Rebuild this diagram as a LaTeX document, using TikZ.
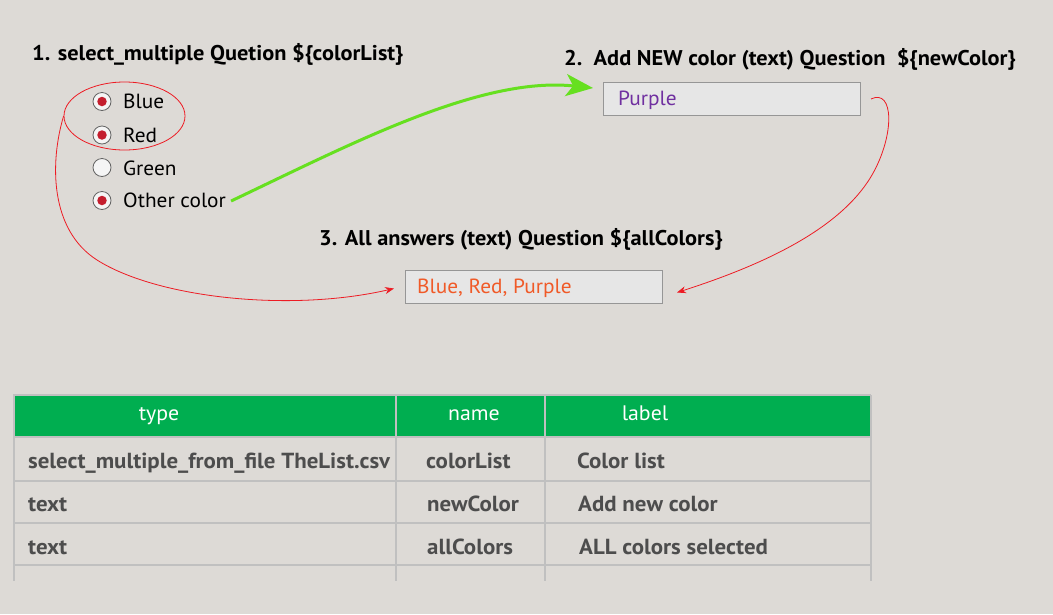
\documentclass[tikz,border=0pt]{standalone}
\usepackage{fontspec}
\setmainfont{PT Sans}
\newfontfamily\titlefont{PT Sans}[FakeStretch=1.05]
\newfontfamily\cellfont{PT Sans}[FakeStretch=1.05]
\newfontfamily\wideregular{PT Sans}[FakeStretch=1.04]
\usetikzlibrary{shapes.geometric,arrows.meta}
\definecolor{bgc}{RGB}{221,218,214}
\definecolor{hdr}{RGB}{0,174,80}
\definecolor{gridc}{RGB}{192,192,192}
\definecolor{boxf}{RGB}{230,230,230}
\definecolor{boxd}{RGB}{150,150,150}
\definecolor{purp}{RGB}{112,48,160}
\definecolor{oran}{RGB}{240,90,40}
\definecolor{redc}{RGB}{237,28,36}
\definecolor{lime}{RGB}{102,224,32}
\definecolor{dotc}{RGB}{196,30,46}
\definecolor{tabt}{RGB}{77,77,77}
\tikzset{
  ttl/.style={anchor=base west,inner sep=0,font=\fontsize{21.3}{24}\selectfont\titlefont\bfseries},
  opt/.style={anchor=base west,inner sep=0,font=\fontsize{20.5}{24}\selectfont\wideregular},
  radio/.style={circle,draw={rgb,255:red,100;green,100;blue,100},line width=0.8pt,fill={rgb,255:red,245;green,245;blue,245},minimum size=18,inner sep=0},
  dot/.style={circle,fill=dotc,minimum size=9.5,inner sep=0},
  ansbox/.style={draw=boxd,fill=boxf,line width=1pt,minimum width=257,minimum height=33,inner sep=0},
  anstxt/.style={anchor=base west,inner sep=0,font=\fontsize{20.5}{24}\selectfont\wideregular},
  hdrtxt/.style={anchor=base,inner sep=0,text=white,font=\fontsize{21}{24}\selectfont\wideregular},
  celltxt/.style={anchor=base west,inner sep=0,text=tabt,font=\fontsize{21.8}{24}\selectfont\cellfont\bfseries},
  redline/.style={draw=redc,line width=0.8pt},
  redtip/.style={-{Stealth[length=9,width=7]}},
}
\begin{document}
\begin{tikzpicture}[x=1pt,y=-1pt]
\fill[bgc] (0,0) rectangle (1053,614);
\useasboundingbox (0,0) rectangle (1053,614);

% titles
\node[ttl] (t1) at (32,60) {1. select\_multiple Quetion \$\{colorList\}};
\node[ttl] (t2) at (564,65) {2.\ \ Add NEW color (text) Question\ \ \$\{newColor\}};
\node[ttl] (t3) at (319,245) {3. All answers (text) Question \$\{allColors\}};

% radio options
\node[radio] (r1) at (102,101.5) {};
\node[dot] (d1) at (r1) {};
\node[radio] (r2) at (102,135) {};
\node[dot] (d2) at (r2) {};
\node[radio] (r3) at (102,167.5) {};
\node[radio] (r4) at (102,200.5) {};
\node[dot] (d4) at (r4) {};
\node[opt] (o1) at (123,108) {Blue};
\node[opt] (o2) at (123,142) {Red};
\node[opt] (o3) at (123,175) {Green};
\node[opt] (o4) at (123,207) {Other color};

\node[ellipse,redline,minimum width=121,minimum height=68,inner sep=0] (sel) at (124.5,116) {};

% answer boxes
\node[ansbox,anchor=north west] (b2) at (603,82) {};
\node[anstxt,text=purp] (b2t) at (618,105) {Purple};
\node[ansbox,anchor=north west] (b3) at (405,270) {};
\node[anstxt,text=oran] (b3t) at (417,293) {Blue, Red, Purple};

% connectors
\draw[draw=lime,line width=3pt,-{Stealth[length=27,width=22,inset=7]}]
  ([xshift=5pt,yshift=6pt]o4.base east) .. controls +(118,-56) and +(-113,-12) .. ([xshift=-10pt,yshift=11pt]b2.west);
\draw[redline,redtip]
  (sel.west) .. controls +(-14,47) and +(-47,-30) .. (97,260)
  .. controls +(60,38) and +(-104,24) .. ([xshift=-11pt,yshift=-1.5pt]b3.west);
\draw[redline,redtip]
  ([xshift=10pt]b2.east) .. controls +(23,-11) and +(23,-40) .. (872,175)
  .. controls +(-32,55) and +(84,-27) .. ([xshift=14pt,yshift=-5.5pt]b3.east);

% table
\fill[hdr] (13,395) rectangle (871,437);
\foreach \yy in {395,437,481,523,565}
  \draw[gridc,line width=2pt] (13,\yy) -- (871,\yy);
\foreach \xx in {14,396,545,871}
  \draw[gridc,line width=2pt] (\xx,395) -- (\xx,581);
\fill[hdr] (15,396) rectangle (395,436);
\fill[hdr] (397,396) rectangle (544,436);
\fill[hdr] (546,396) rectangle (870,436);

\node[hdrtxt] (h1) at (159,420) {type};
\node[hdrtxt] (h2) at (474,420) {name};
\node[hdrtxt] (h3) at (645,420) {label};

\node[celltxt] (c11) at (28,468) {select\_multiple\_from\_file TheList.csv};
\node[celltxt] (c12) at (426,468) {colorList};
\node[celltxt] (c13) at (577,468) {Color list};
\node[celltxt] (c21) at (28,511) {text};
\node[celltxt] (c22) at (427,511) {newColor};
\node[celltxt] (c23) at (578,511) {Add new color};
\node[celltxt] (c31) at (28,554) {text};
\node[celltxt] (c32) at (427,554) {allColors};
\node[celltxt] (c33) at (579,554) {ALL colors selected};
\end{tikzpicture}
\end{document}
